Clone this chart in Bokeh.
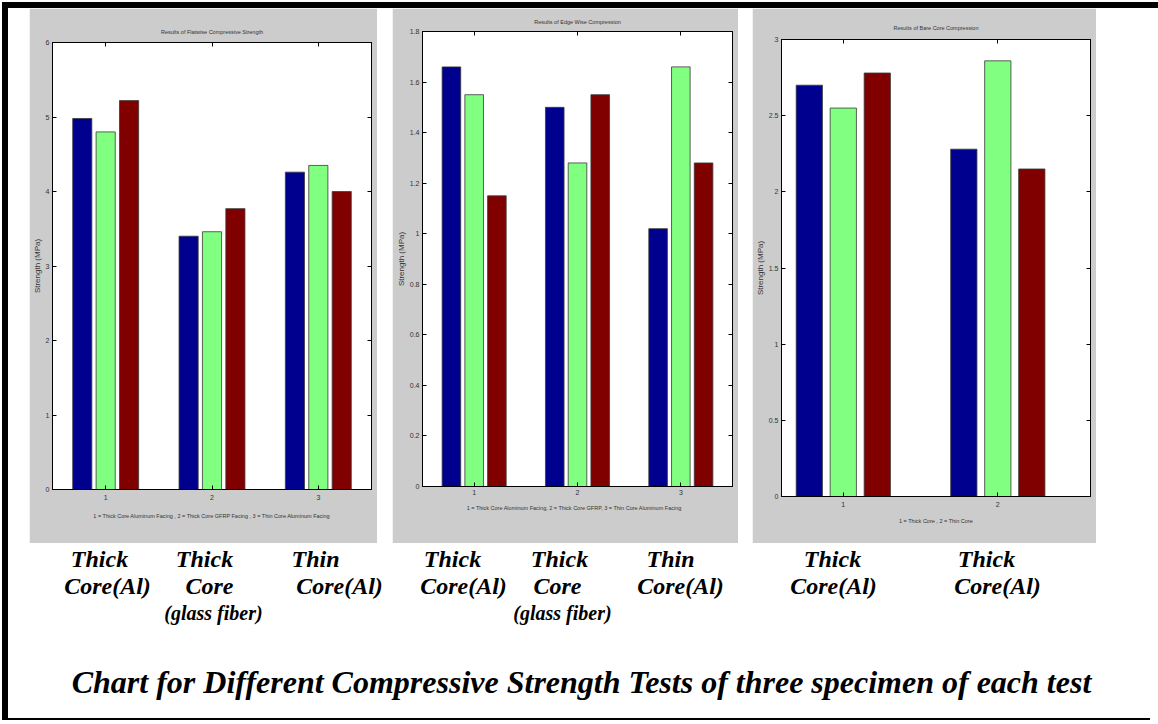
from bokeh.plotting import figure
from bokeh.models import (Range1d, FixedTicker, LinearAxis, NumeralTickFormatter,
                          ColumnDataSource, Spacer)
from bokeh.layouts import row, column
from bokeh.transform import dodge
from bokeh.core.properties import value
from bokeh.embed import file_html
from bokeh.resources import INLINE

# ---------------- data ----------------
groups3 = [1, 2, 3]
groups2 = [1, 2]

flat_blue = [4.98, 3.40, 4.26]
flat_green = [4.80, 3.46, 4.35]
flat_red = [5.22, 3.77, 4.00]

edge_blue = [1.66, 1.50, 1.02]
edge_green = [1.55, 1.28, 1.66]
edge_red = [1.15, 1.55, 1.28]

bare_blue = [2.70, 2.28]
bare_green = [2.55, 2.86]
bare_red = [2.78, 2.15]

flat_yticks = [0, 1, 2, 3, 4, 5, 6]
edge_yticks = [0, 0.2, 0.4, 0.6, 0.8, 1.0, 1.2, 1.4, 1.6, 1.8]
bare_yticks = [0, 0.5, 1.0, 1.5, 2.0, 2.5, 3.0]

titles = ["Results of Flatwise Compressive Strength",
          "Results of Edge Wise Compression",
          "Results of Bare Core Compression"]
xlabels = ["1 = Thick Core Aluminum Facing , 2 = Thick Core GFRP Facing , 3 = Thin Core Aluminum Facing",
           "1 = Thick Core Aluminum Facing,   2 = Thick Core GFRP,   3 = Thin Core Aluminum Facing",
           "1 = Thick Core , 2 = Thin Core"]
ylabel = "Strength (MPa)"

big_labels = ["Thick", "Core(Al)", "Thick", "Core", "Thin", "Core(Al)",
              "Thick", "Core(Al)", "Thick", "Core", "Thin", "Core(Al)",
              "Thick", "Core(Al)", "Thick", "Core(Al)"]
big_x = [91, 99, 196, 201, 307, 331,
         444, 455, 551, 549, 662, 672,
         824, 825, 978, 989]
big_y = [15, 42, 15, 42, 15, 42,
         15, 42, 15, 42, 15, 42,
         15, 42, 15, 42]
small_labels = ["(glass fiber)", "(glass fiber)"]
small_x = [205, 554]
small_y = [69, 69]
caption = "Chart for Different Compressive Strength Tests of three specimen of each test"

BLUE = "#00008F"
GREEN = "#80FF80"
RED = "#800000"
GRAY = "#CCCCCC"
TXT = "#333333"
TINY = "5.5px"
TICK = "7px"
YLAB = "8px"


def make_panel(title, xlabel, groups, b, g, r, x_lo, x_hi, y_hi, yticks, fmt,
               w, h, bl, br, bt, bb, bw, off, tick_so, lab_so, title_so):
    src = ColumnDataSource(dict(g=groups, b=b, gr=g, r=r))
    p = figure(width=w, height=h, x_range=Range1d(x_lo, x_hi), y_range=Range1d(0, y_hi),
               output_backend="svg", toolbar_location=None,
               min_border_left=bl, min_border_right=br, min_border_top=bt, min_border_bottom=bb,
               background_fill_color="white", border_fill_color=GRAY,
               outline_line_color="black", title=title)
    p.title.align = "center"
    p.title.text_font = "Liberation Sans"
    p.title.text_font_size = TINY
    p.title.text_font_style = "normal"
    p.title.text_color = TXT
    p.title.standoff = title_so
    p.xgrid.visible = False
    p.ygrid.visible = False

    for col, c, o in (("b", BLUE, -off), ("gr", GREEN, 0.0), ("r", RED, off)):
        p.vbar(x=dodge("g", o, range=p.x_range), top=col, width=bw, bottom=0,
               source=src, fill_color=c, line_color="#3a3a3a", line_width=0.8)

    ax = p.xaxis[0]
    ax.ticker = FixedTicker(ticks=groups)
    ax.axis_label = xlabel
    ay = p.yaxis[0]
    ay.ticker = FixedTicker(ticks=yticks)
    ay.formatter = NumeralTickFormatter(format=fmt)
    ay.axis_label = ylabel
    for a in (ax, ay):
        a.major_tick_in = 4
        a.major_tick_out = 0
        a.minor_tick_line_color = None
        a.axis_line_color = "black"
        a.major_tick_line_color = "black"
        a.major_label_text_font = "Liberation Sans"
        a.major_label_text_font_size = TICK
        a.major_label_text_color = TXT
        a.axis_label_text_font = "Liberation Sans"
        a.axis_label_text_font_style = "normal"
        a.axis_label_text_color = TXT
    ax.axis_label_text_font_size = TINY
    ay.axis_label_text_font_size = YLAB
    ax.major_label_standoff = tick_so
    ax.axis_label_standoff = lab_so
    ay.major_label_standoff = 3
    ay.axis_label_standoff = 1

    # box ticks on the top and right edges (no labels drawn)
    top = LinearAxis(ticker=FixedTicker(ticks=groups), major_tick_in=4, major_tick_out=0,
                     minor_tick_line_color=None, major_label_text_font_size="1px",
                     major_label_text_color=None, major_label_standoff=0,
                     axis_line_color="black")
    p.add_layout(top, "above")
    right = LinearAxis(ticker=FixedTicker(ticks=yticks), major_tick_in=4, major_tick_out=0,
                       minor_tick_line_color=None, major_label_text_font_size="1px",
                       major_label_text_color=None, major_label_standoff=0,
                       axis_line_color="black")
    p.add_layout(right, "right")
    return p


PH = 535
# panel frames (page px): 1 -> 42..489, 2 -> 31..486, 3 -> 39..496 ; panels span 8..543
p1 = make_panel(titles[0], xlabels[0], groups3, flat_blue, flat_green, flat_red,
                0.5, 3.5, 6, flat_yticks, "0", 348, PH, 23, 6, 34, 54,
                0.18, 0.22, 5, 10, 15)
p2 = make_panel(titles[1], xlabels[1], groups3, edge_blue, edge_green, edge_red,
                0.5, 3.5, 1.8, edge_yticks, "0.[0]", 346, PH, 30, 6, 23, 57,
                0.18, 0.22, 3, 7, 13)
p3 = make_panel(titles[2], xlabels[2], groups2, bare_blue, bare_green, bare_red,
                0.6, 2.6, 3, bare_yticks, "0.[0]", 344, PH, 26, 6, 31, 47,
                0.17, 0.22, 5, 8, 17)

BW, BH = 1142, 175
bot = figure(width=BW, height=BH, x_range=Range1d(0, BW), y_range=Range1d(BH, 0),
             output_backend="svg", toolbar_location=None, min_border=0,
             x_axis_location=None, y_axis_location=None, outline_line_color=None,
             background_fill_color="white", border_fill_color="white")
bot.xgrid.visible = False
bot.ygrid.visible = False
bot.text(x=big_x, y=big_y, text=big_labels, text_align="center", text_baseline="middle",
         text_font=value("Liberation Serif"), text_font_style="bold italic",
         text_font_size="24px", text_color="black")
bot.text(x=small_x, y=small_y, text=small_labels, text_align="center", text_baseline="middle",
         text_font=value("Liberation Serif"), text_font_style="bold italic",
         text_font_size="20px", text_color="black")
bot.text(x=[573], y=[138], text=[caption], text_align="center", text_baseline="middle",
         text_font=value("Liberation Serif"), text_font_style="bold italic",
         text_font_size="32px", text_color="black")

BLACK_BG = {"background-color": "black"}
top_bar = Spacer(width=1156, height=6, styles=BLACK_BG)
left_bar = Spacer(width=6, height=PH + BH + 2, styles=BLACK_BG)
bottom_bar = Spacer(width=BW, height=2, styles=BLACK_BG)

# each panel wrapped on its own so that Bokeh does not align the three frames
panels = row(Spacer(width=21, height=PH), column(p1), Spacer(width=15, height=PH), column(p2),
             Spacer(width=14, height=PH), column(p3), Spacer(width=54, height=PH))
inner = column(top_bar, row(left_bar, column(panels, bot, bottom_bar)))
layout = column(Spacer(width=1156, height=2),
                row(Spacer(width=2, height=6 + PH + BH + 2), inner))

open("out.html", "w").write(file_html(layout, INLINE))
